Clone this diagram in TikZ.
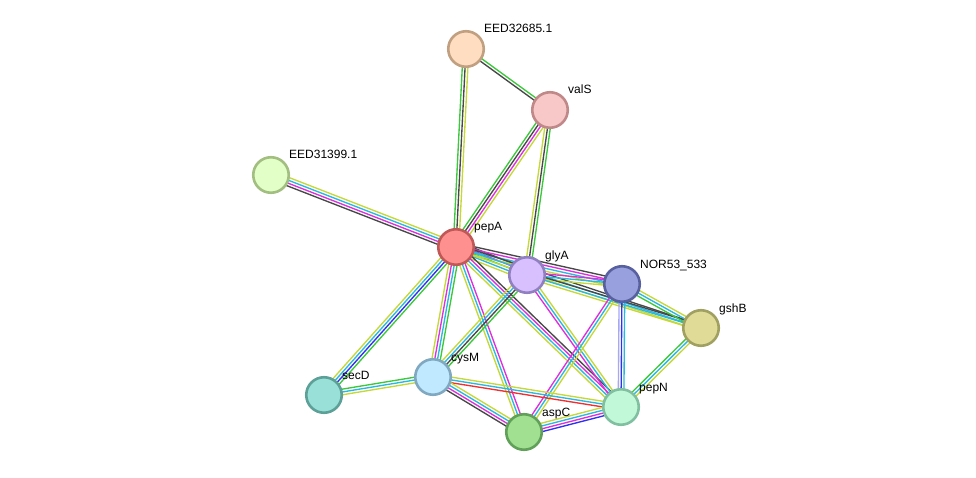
\documentclass[tikz,border=0pt]{standalone}
\usepackage{fontspec}
\setmainfont{Liberation Sans}
\usetikzlibrary{calc}
\pgfdeclarelayer{edges}
\pgfsetlayers{edges,main}
\definecolor{cgreen}{HTML}{3CC83C}
\definecolor{cblack}{HTML}{484848}
\definecolor{cmag}{HTML}{DD30DD}
\definecolor{ccyan}{HTML}{28B8E0}
\definecolor{cyel}{HTML}{C4D83A}
\definecolor{cblue}{HTML}{3030F0}
\definecolor{cred}{HTML}{F03030}
\definecolor{clav}{HTML}{A8A8F0}
\tikzset{
  prot/.style={circle,minimum size=35.5pt,inner sep=0pt,line width=2.6pt},
  lbl/.style={anchor=base west,font=\fontsize{12}{14}\selectfont,inner sep=0pt},
  ln/.style={line width=1.35pt}
}
\newcommand\sedge[4]{\foreach \cc [count=\ii] in {#4}{%
  \pgfmathsetmacro\off{(\ii-(#3+1)/2)*2.8}%
  \draw[ln,\cc] ($(#1.center)!\off pt!90:(#2.center)$) -- ($(#2.center)!\off pt!-90:(#1.center)$);}}
\begin{document}
\begin{tikzpicture}[x=1pt,y=-1pt]
\useasboundingbox (0,0) rectangle (976,478);
\node[prot,fill={rgb,255:red,255;green,221;blue,192},draw={rgb,255:red,192;green,160;blue,128}] (eed32) at (466,49) {};
\node[prot,fill={rgb,255:red,248;green,200;blue,200},draw={rgb,255:red,192;green,136;blue,136}] (valS) at (550,110) {};
\node[prot,fill={rgb,255:red,226;green,255;blue,200},draw={rgb,255:red,162;green,190;blue,128}] (eed31) at (271,175) {};
\node[prot,fill={rgb,255:red,255;green,144;blue,144},draw={rgb,255:red,192;green,88;blue,88}] (pepA) at (456,247) {};
\node[prot,fill={rgb,255:red,216;green,192;blue,255},draw={rgb,255:red,144;green,128;blue,192}] (glyA) at (527,275) {};
\node[prot,fill={rgb,255:red,152;green,160;blue,221},draw={rgb,255:red,88;green,96;blue,160}] (nor) at (622,284) {};
\node[prot,fill={rgb,255:red,224;green,220;blue,152},draw={rgb,255:red,160;green,160;blue,96}] (gshB) at (701,328) {};
\node[prot,fill={rgb,255:red,152;green,224;blue,216},draw={rgb,255:red,92;green,160;blue,152}] (secD) at (324,395) {};
\node[prot,fill={rgb,255:red,192;green,232;blue,255},draw={rgb,255:red,128;green,168;blue,192}] (cysM) at (433,377) {};
\node[prot,fill={rgb,255:red,192;green,248;blue,216},draw={rgb,255:red,128;green,192;blue,160}] (pepN) at (621,407) {};
\node[prot,fill={rgb,255:red,160;green,224;blue,144},draw={rgb,255:red,96;green,160;blue,88}] (aspC) at (524,432) {};
\node[lbl] (leed32) at ($(eed32.center)+(18,-16)$) {EED32685.1};
\node[lbl] (lvalS) at ($(valS.center)+(18,-16)$) {valS};
\node[lbl] (leed31) at ($(eed31.center)+(18,-16)$) {EED31399.1};
\node[lbl] (lpepA) at ($(pepA.center)+(18,-16)$) {pepA};
\node[lbl] (lglyA) at ($(glyA.center)+(18,-16)$) {glyA};
\node[lbl] (lnor) at ($(nor.center)+(18,-16)$) {NOR53\_533};
\node[lbl] (lgshB) at ($(gshB.center)+(18,-16)$) {gshB};
\node[lbl] (lsecD) at ($(secD.center)+(18,-16)$) {secD};
\node[lbl] (lcysM) at ($(cysM.center)+(18,-16)$) {cysM};
\node[lbl] (lpepN) at ($(pepN.center)+(18,-16)$) {pepN};
\node[lbl] (laspC) at ($(aspC.center)+(18,-16)$) {aspC};
\begin{pgfonlayer}{edges}
\sedge{eed32}{valS}{2}{cblack,cgreen}
\sedge{eed32}{pepA}{3}{cgreen,cblack,cyel}
\sedge{valS}{pepA}{4}{cgreen,cblack,cmag,cyel}
\sedge{valS}{glyA}{3}{cyel,cblack,cgreen}
\sedge{eed31}{pepA}{4}{cblack,cmag,ccyan,cyel}
\sedge{pepA}{glyA}{5}{cyel,ccyan,cgreen,cmag,cblack}
\sedge{pepA}{nor}{4}{cyel,ccyan,cmag,cblack}
\sedge{pepA}{gshB}{3}{cyel,ccyan,cblack}
\sedge{pepA}{secD}{4}{cyel,ccyan,cblue,cgreen}
\sedge{pepA}{cysM}{4}{cyel,cmag,ccyan,cgreen}
\sedge{pepA}{aspC}{3}{cyel,ccyan,cmag}
\sedge{pepA}{pepN}{4}{cyel,ccyan,cmag,cblack}
\sedge{glyA}{nor}{3}{cyel,ccyan,cmag}
\sedge{glyA}{gshB}{3}{cyel,ccyan,cblack}
\sedge{glyA}{cysM}{4}{cyel,ccyan,cblack,cgreen}
\sedge{glyA}{pepN}{3}{cmag,ccyan,cyel}
\sedge{nor}{gshB}{3}{cgreen,ccyan,cyel}
\sedge{nor}{aspC}{3}{cmag,ccyan,cyel}
\sedge{nor}{pepN}{3}{clav,cblue,ccyan}
\sedge{gshB}{pepN}{3}{cgreen,ccyan,cyel}
\sedge{secD}{cysM}{3}{cyel,ccyan,cgreen}
\sedge{cysM}{pepN}{3}{cred,ccyan,cyel}
\sedge{cysM}{aspC}{4}{cblack,cmag,ccyan,cyel}
\sedge{aspC}{pepN}{4}{cblue,cmag,ccyan,cyel}
\end{pgfonlayer}
\end{tikzpicture}
\end{document}
